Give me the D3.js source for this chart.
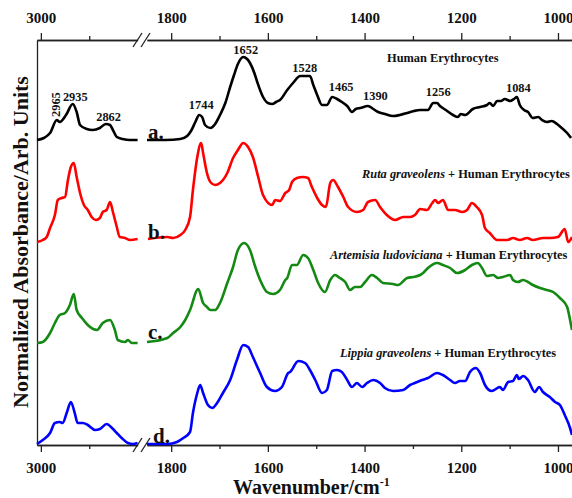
<!DOCTYPE html>
<html>
<head>
<meta charset="utf-8">
<script src="https://cdn.jsdelivr.net/npm/d3@7/dist/d3.min.js"></script>
<style>
  body { margin: 0; background: #fff; }
  svg { display: block; }
  text { font-family: "Liberation Serif", "Times New Roman", serif; font-weight: bold; fill: #111; }
</style>
</head>
<body>
<div id="chart"></div>
<script>
// wavenumber (cm-1), normalized absorbance (before stacking offset)
const blackLeft = [[3008,.05],[2994,.07],[2981,.12],[2967,.25],[2961,.23],[2948,.30],[2934,.41],[2926,.33],[2919,.20],[2905,.16],[2893,.15],[2878,.17],[2866,.21],[2857,.20],[2851,.15],[2843,.08],[2831,.06],[2816,.05],[2800,.05]];
const blackRight = [[1850,.05],[1812,.05],[1781,.06],[1767,.09],[1759,.14],[1750,.23],[1742,.30],[1736,.28],[1730,.20],[1719,.17],[1709,.21],[1699,.30],[1688,.42],[1678,.58],[1670,.70],[1662,.81],[1651,.88],[1643,.86],[1637,.82],[1628,.72],[1622,.63],[1610,.48],[1600,.42],[1591,.41],[1583,.43],[1575,.45],[1560,.55],[1548,.62],[1533,.69],[1523,.69],[1513,.69],[1506,.60],[1498,.50],[1488,.40],[1478,.40],[1467,.48],[1457,.46],[1447,.43],[1436,.39],[1426,.33],[1418,.36],[1409,.37],[1393,.39],[1382,.36],[1372,.33],[1358,.31],[1341,.29],[1327,.30],[1312,.32],[1298,.34],[1285,.35],[1269,.35],[1258,.42],[1250,.42],[1244,.39],[1232,.35],[1217,.30],[1207,.28],[1201,.31],[1192,.30],[1176,.36],[1161,.38],[1147,.40],[1141,.42],[1134,.39],[1126,.44],[1118,.44],[1110,.46],[1099,.44],[1091,.46],[1085,.48],[1079,.40],[1070,.35],[1062,.33],[1052,.27],[1041,.28],[1033,.25],[1023,.23],[1013,.24],[1002,.21],[992,.17],[981,.12],[973,.07]];

const redLeft = [[3008,.03],[2996,.05],[2988,.08],[2981,.17],[2971,.30],[2965,.45],[2957,.47],[2950,.48],[2944,.65],[2938,.78],[2932,.82],[2926,.68],[2919,.52],[2911,.40],[2903,.35],[2895,.28],[2886,.25],[2878,.27],[2872,.33],[2864,.35],[2857,.43],[2851,.33],[2843,.18],[2837,.08],[2826,.07],[2816,.05],[2800,.06]];
const redRight = [[1848,.06],[1808,.08],[1796,.07],[1781,.10],[1771,.15],[1761,.28],[1755,.55],[1746,.88],[1738,1.02],[1734,.92],[1726,.72],[1719,.63],[1709,.60],[1699,.62],[1684,.72],[1672,.87],[1662,.95],[1651,1.02],[1641,.98],[1631,.88],[1620,.68],[1610,.50],[1591,.40],[1585,.45],[1575,.44],[1564,.52],[1556,.55],[1550,.63],[1540,.67],[1527,.68],[1517,.67],[1509,.58],[1498,.47],[1488,.40],[1480,.38],[1471,.62],[1465,.65],[1455,.58],[1444,.48],[1434,.38],[1416,.33],[1403,.35],[1393,.43],[1378,.45],[1368,.38],[1354,.30],[1337,.25],[1320,.28],[1306,.28],[1296,.30],[1285,.36],[1271,.35],[1260,.42],[1254,.45],[1248,.42],[1238,.45],[1227,.35],[1213,.35],[1198,.33],[1188,.35],[1178,.42],[1168,.38],[1157,.30],[1151,.17],[1141,.12],[1126,.05],[1105,.05],[1093,.07],[1079,.05],[1064,.07],[1052,.05],[1031,.07],[1017,.07],[1000,.08],[986,.16],[979,.03],[971,.08]];

const greenLeft = [[3008,.02],[2996,.03],[2981,.12],[2971,.22],[2961,.30],[2950,.32],[2940,.40],[2932,.51],[2926,.35],[2915,.27],[2903,.20],[2884,.15],[2872,.22],[2857,.25],[2847,.15],[2841,.05],[2826,.03],[2820,.05],[2812,.02],[2800,.02]];
const greenRight = [[1850,.03],[1808,.07],[1796,.12],[1781,.18],[1771,.25],[1761,.35],[1744,.56],[1734,.42],[1726,.38],[1719,.35],[1709,.35],[1699,.42],[1684,.62],[1672,.78],[1662,.95],[1649,1.02],[1637,.95],[1626,.78],[1616,.65],[1602,.53],[1589,.51],[1575,.55],[1564,.65],[1560,.67],[1550,.80],[1540,.80],[1527,.90],[1517,.87],[1506,.75],[1496,.62],[1482,.53],[1471,.65],[1461,.70],[1451,.67],[1440,.63],[1430,.55],[1420,.58],[1409,.58],[1399,.63],[1385,.70],[1374,.67],[1362,.62],[1341,.61],[1331,.60],[1312,.67],[1300,.68],[1285,.70],[1279,.72],[1269,.77],[1250,.82],[1238,.80],[1223,.77],[1209,.72],[1192,.75],[1178,.80],[1166,.82],[1157,.77],[1147,.69],[1134,.70],[1124,.67],[1114,.68],[1099,.70],[1093,.65],[1083,.63],[1072,.65],[1062,.63],[1052,.60],[1037,.57],[1023,.55],[1010,.53],[996,.47],[981,.38],[975,.25],[971,.15]];

const blueLeft = [[3008,.01],[2996,.05],[2981,.12],[2971,.22],[2961,.23],[2955,.22],[2946,.33],[2938,.43],[2930,.32],[2924,.22],[2913,.22],[2903,.20],[2888,.15],[2878,.16],[2864,.21],[2853,.17],[2843,.12],[2833,.07],[2820,.02],[2810,.01],[2800,.02]];
const blueRight = [[1850,.01],[1808,.01],[1788,.03],[1775,.07],[1761,.13],[1755,.32],[1746,.52],[1740,.60],[1734,.52],[1724,.40],[1715,.37],[1705,.42],[1693,.52],[1678,.65],[1664,.85],[1651,1.00],[1641,.98],[1631,.88],[1616,.72],[1602,.58],[1585,.54],[1571,.58],[1558,.72],[1554,.73],[1537,.84],[1523,.82],[1513,.75],[1502,.65],[1488,.52],[1478,.55],[1467,.74],[1457,.75],[1447,.73],[1436,.65],[1426,.58],[1416,.62],[1405,.58],[1395,.62],[1382,.65],[1368,.62],[1358,.57],[1341,.54],[1320,.55],[1306,.60],[1296,.62],[1281,.65],[1269,.67],[1250,.72],[1238,.70],[1223,.65],[1213,.62],[1203,.64],[1192,.64],[1182,.73],[1170,.77],[1161,.72],[1151,.60],[1137,.54],[1120,.58],[1114,.55],[1103,.63],[1093,.64],[1085,.70],[1081,.66],[1072,.69],[1062,.65],[1048,.53],[1039,.58],[1031,.53],[1017,.48],[1006,.43],[996,.40],[986,.30],[975,.17],[971,.10]];

const seriesColors = ["#000000", "#ff0000", "#148a14", "#0000ff"];
const seriesOffsets = [3, 2, 1, 0];
const seriesLetters = ["a.", "b.", "c.", "d."];
const seriesPlants = ["", "Ruta graveolens", "Artemisia ludoviciana", "Lippia graveolens"];

const peakLabels = [2965, 2935, 2862, 1744, 1652, 1528, 1465, 1390, 1256, 1084];
const majorTicksLeft = [3000];
const minorTicksLeft = [2900];
const majorTicksRight = [1800, 1600, 1400, 1200, 1000];
const minorTicksRight = [1700, 1500, 1300, 1100];

const width = 572, height = 498;
const plotTop = 40, plotBottom = 445, plotLeft = 37;

const svg = d3.select("#chart").append("svg")
  .attr("width", width).attr("height", height);

const xL = d3.scaleLinear().domain([3008, 2800]).range([37, 137.6]);
const xR = d3.scaleLinear().domain([1850, 971]).range([147, 572]);
const y = d3.scaleLinear().domain([0, 4.05]).range([plotBottom, plotTop]);

const series = [
  [blackLeft, blackRight],
  [redLeft, redRight],
  [greenLeft, greenRight],
  [blueLeft, blueRight]
];

// axes
function drawAxis(scale, majors, minors, pos) {
  const maj = pos === "top" ? d3.axisTop(scale) : d3.axisBottom(scale);
  const min = pos === "top" ? d3.axisTop(scale) : d3.axisBottom(scale);
  const yy = pos === "top" ? plotTop : plotBottom;
  const g = svg.append("g").attr("transform", "translate(0," + yy + ")")
    .call(maj.tickValues(majors).tickSize(7).tickSizeOuter(0).tickPadding(10).tickFormat(d3.format("d")));
  g.selectAll("text").attr("font-size", 15).attr("font-family", null);
  svg.append("g").attr("transform", "translate(0," + yy + ")")
    .call(min.tickValues(minors).tickSize(4).tickSizeOuter(0).tickFormat(""));
}
drawAxis(xL, majorTicksLeft, minorTicksLeft, "top");
drawAxis(xR, majorTicksRight, minorTicksRight, "top");
drawAxis(xL, majorTicksLeft, minorTicksLeft, "bottom");
drawAxis(xR, majorTicksRight, minorTicksRight, "bottom");

svg.append("g").attr("transform", "translate(" + plotLeft + ",0)")
  .call(d3.axisLeft(y).tickValues([]).tickSizeOuter(0));

svg.selectAll(".domain, .tick line").attr("stroke", "#222").attr("stroke-width", 1.3);

// axis break marks
[plotTop, plotBottom].forEach(yy => {
  [133, 141].forEach(x0 => {
    svg.append("line")
      .attr("x1", x0).attr("y1", yy + 7)
      .attr("x2", x0 + 9).attr("y2", yy - 7)
      .attr("stroke", "#222").attr("stroke-width", 1.3);
  });
});

// spectra
const lineL = d3.line().x(d => xL(d[0])).curve(d3.curveMonotoneX);
const lineR = d3.line().x(d => xR(d[0])).curve(d3.curveMonotoneX);

series.forEach((s, i) => {
  const off = seriesOffsets[i];
  lineL.y(d => y(d[1] + off));
  lineR.y(d => y(d[1] + off));
  svg.append("path").datum(s[0]).attr("d", lineL)
    .attr("fill", "none").attr("stroke", seriesColors[i]).attr("stroke-width", 2.6)
    .attr("stroke-linejoin", "round");
  svg.append("path").datum(s[1]).attr("d", lineR)
    .attr("fill", "none").attr("stroke", seriesColors[i]).attr("stroke-width", 2.6)
    .attr("stroke-linejoin", "round");
});

// series letters
const letterPos = [[148, 139], [148, 239], [148, 339], [153, 443]];
seriesLetters.forEach((t, i) => {
  svg.append("text").attr("x", letterPos[i][0]).attr("y", letterPos[i][1])
    .attr("font-size", 21).text(t);
});

// series names
const namePos = [[387, 62], [362, 178], [330, 259], [340, 357]];
seriesPlants.forEach((p, i) => {
  const t = svg.append("text").attr("x", namePos[i][0]).attr("y", namePos[i][1])
    .attr("font-size", 12.4);
  if (p) {
    t.append("tspan").attr("font-style", "italic").text(p);
    t.append("tspan").text(" + Human Erythrocytes");
  } else {
    t.text("Human Erythrocytes");
  }
});

// peak labels on the top spectrum
const peakPos = {
  2965: [60, 117], 2935: [3, 101], 2862: [1, 121], 1744: [3, 109], 1652: [3, 54],
  1528: [2, 72], 1465: [8, 91], 1390: [6, 100], 1256: [4, 96], 1084: [1, 92]
};
peakLabels.forEach(p => {
  const sc = p > 2000 ? xL : xR;
  if (p === 2965) {
    svg.append("text").attr("font-size", 12.4)
      .attr("transform", "translate(" + peakPos[p][0] + "," + peakPos[p][1] + ") rotate(-90)")
      .text(p);
  } else {
    svg.append("text").attr("font-size", 12.4).attr("text-anchor", "middle")
      .attr("x", sc(p) + peakPos[p][0]).attr("y", peakPos[p][1]).text(p);
  }
});

// axis titles
svg.append("text").attr("font-size", 22).attr("text-anchor", "middle")
  .attr("transform", "translate(28,242) rotate(-90)")
  .text("Normalized Absorbance/Arb. Units");

const xt = svg.append("text").attr("font-size", 20).attr("x", 233).attr("y", 494)
  .text("Wavenumber/cm");
xt.append("tspan").attr("font-size", 12).attr("dy", -8).text("-1");
</script>
</body>
</html>
